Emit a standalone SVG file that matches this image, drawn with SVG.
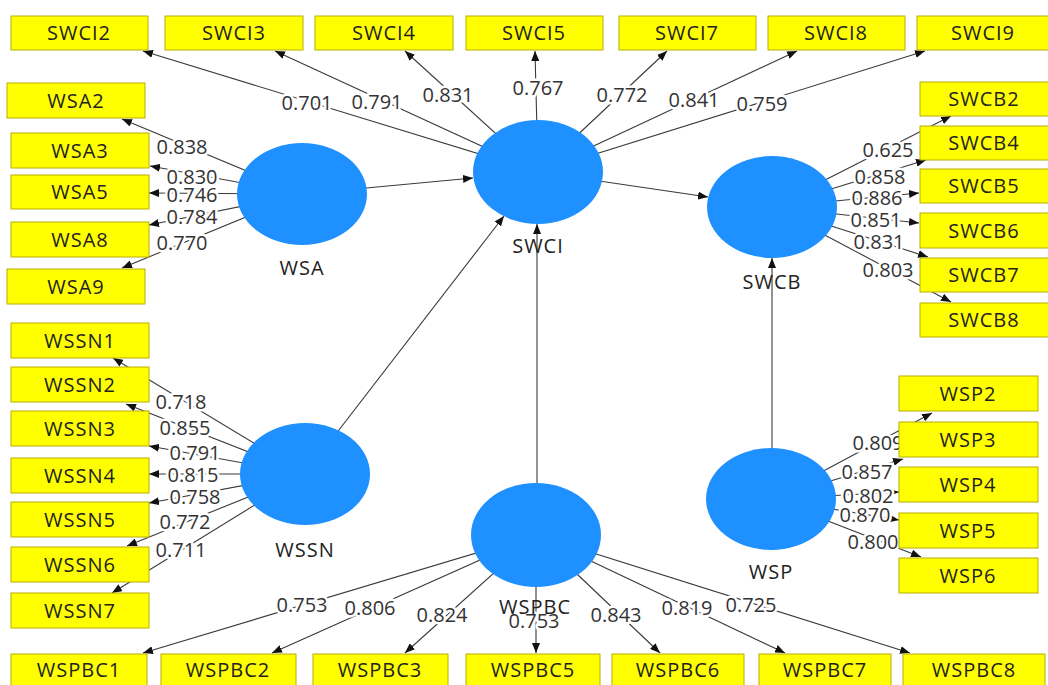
<svg xmlns="http://www.w3.org/2000/svg" width="1048" height="685" viewBox="0 0 1048 685">
<defs>
<marker id="ah" viewBox="0 0 10 8" refX="10" refY="4" markerWidth="10" markerHeight="8" markerUnits="userSpaceOnUse" orient="auto"><path d="M0,0L10,4L0,8z" fill="#111"/></marker>
<style>
.c{stroke:#3a3a3a;stroke-width:1.1;fill:none;marker-end:url(#ah)}
.lv{fill:#1e90ff}
.ind rect{fill:#ffff00;stroke:#b8ae00;stroke-width:1}
.ind text,.nl{font-family:"Open Sans","DejaVu Sans",sans-serif;font-size:20px;fill:#222;text-anchor:middle;letter-spacing:1px}
.el{font-family:"Open Sans","DejaVu Sans",sans-serif;font-size:20px;fill:#333;text-anchor:middle;stroke:#fff;stroke-width:5;paint-order:stroke;stroke-linejoin:round}
</style>
</defs>
<rect width="1048" height="685" fill="#fff"/>
<g id="connectors">
<line class="c" x1="538" y1="172" x2="143" y2="51"/>
<line class="c" x1="538" y1="172" x2="275" y2="51"/>
<line class="c" x1="538" y1="172" x2="405" y2="51"/>
<line class="c" x1="538" y1="172" x2="535" y2="51"/>
<line class="c" x1="538" y1="172" x2="667" y2="51"/>
<line class="c" x1="538" y1="172" x2="797" y2="51"/>
<line class="c" x1="538" y1="172" x2="925" y2="51"/>
<line class="c" x1="302" y1="194" x2="122" y2="119"/>
<line class="c" x1="302" y1="194" x2="150" y2="166"/>
<line class="c" x1="302" y1="194" x2="149" y2="193"/>
<line class="c" x1="302" y1="194" x2="149" y2="225"/>
<line class="c" x1="302" y1="194" x2="122" y2="268"/>
<line class="c" x1="305" y1="474" x2="113" y2="358"/>
<line class="c" x1="305" y1="474" x2="126" y2="404"/>
<line class="c" x1="305" y1="474" x2="149" y2="446"/>
<line class="c" x1="305" y1="474" x2="149" y2="474"/>
<line class="c" x1="305" y1="474" x2="149" y2="503"/>
<line class="c" x1="305" y1="474" x2="127" y2="546"/>
<line class="c" x1="305" y1="474" x2="112" y2="593"/>
<line class="c" x1="772" y1="207" x2="951" y2="116"/>
<line class="c" x1="772" y1="207" x2="926" y2="160"/>
<line class="c" x1="772" y1="207" x2="919" y2="193"/>
<line class="c" x1="772" y1="207" x2="919" y2="223"/>
<line class="c" x1="772" y1="207" x2="928" y2="257"/>
<line class="c" x1="772" y1="207" x2="951" y2="302"/>
<line class="c" x1="771" y1="499" x2="932" y2="413"/>
<line class="c" x1="771" y1="499" x2="903" y2="459"/>
<line class="c" x1="771" y1="499" x2="899" y2="492"/>
<line class="c" x1="771" y1="499" x2="899" y2="520"/>
<line class="c" x1="771" y1="499" x2="921" y2="557"/>
<line class="c" x1="536" y1="535" x2="143" y2="653"/>
<line class="c" x1="536" y1="535" x2="272" y2="653"/>
<line class="c" x1="536" y1="535" x2="405" y2="653"/>
<line class="c" x1="536" y1="535" x2="536" y2="653"/>
<line class="c" x1="536" y1="535" x2="660" y2="653"/>
<line class="c" x1="536" y1="535" x2="785" y2="653"/>
<line class="c" x1="536" y1="535" x2="910" y2="653"/>
<line class="c" x1="302" y1="194" x2="473" y2="178"/>
<line class="c" x1="305" y1="474" x2="504" y2="216"/>
<line class="c" x1="537" y1="535" x2="537" y2="224"/>
<line class="c" x1="538" y1="172" x2="708" y2="197"/>
<line class="c" x1="772" y1="499" x2="772" y2="258"/>
<g id="edge-labels">
<text class="el" x="307" y="110">0.701</text>
<text class="el" x="377" y="109">0.791</text>
<text class="el" x="448" y="102">0.831</text>
<text class="el" x="538" y="95">0.767</text>
<text class="el" x="622" y="102">0.772</text>
<text class="el" x="694" y="107">0.841</text>
<text class="el" x="762" y="111">0.759</text>
<text class="el" x="182" y="154">0.838</text>
<text class="el" x="192" y="184">0.830</text>
<text class="el" x="192" y="202">0.746</text>
<text class="el" x="192" y="224">0.784</text>
<text class="el" x="182" y="250">0.770</text>
<text class="el" x="181" y="409">0.718</text>
<text class="el" x="185" y="435">0.855</text>
<text class="el" x="195" y="460">0.791</text>
<text class="el" x="193" y="482">0.815</text>
<text class="el" x="195" y="504">0.758</text>
<text class="el" x="185" y="529">0.772</text>
<text class="el" x="181" y="557">0.711</text>
<text class="el" x="888" y="157">0.625</text>
<text class="el" x="880" y="184">0.858</text>
<text class="el" x="877" y="205">0.886</text>
<text class="el" x="876" y="227">0.851</text>
<text class="el" x="879" y="249">0.831</text>
<text class="el" x="888" y="277">0.803</text>
<text class="el" x="878" y="450">0.809</text>
<text class="el" x="867" y="479">0.857</text>
<text class="el" x="868" y="503">0.802</text>
<text class="el" x="865" y="522">0.870</text>
<text class="el" x="873" y="549">0.800</text>
<text class="el" x="302" y="612">0.753</text>
<text class="el" x="370" y="615">0.806</text>
<text class="el" x="442" y="622">0.824</text>
<text class="el" x="534" y="628">0.753</text>
<text class="el" x="616" y="622">0.843</text>
<text class="el" x="687" y="615">0.819</text>
<text class="el" x="751" y="612">0.725</text>
</g>
</g>
<g id="SWCI"><ellipse class="lv" cx="538" cy="172" rx="65" ry="52"/><text class="nl" x="538" y="253">SWCI</text></g>
<g id="WSA"><ellipse class="lv" cx="302" cy="194" rx="65" ry="51"/><text class="nl" x="302" y="275">WSA</text></g>
<g id="SWCB"><ellipse class="lv" cx="772" cy="207" rx="65" ry="51"/><text class="nl" x="772" y="289">SWCB</text></g>
<g id="WSSN"><ellipse class="lv" cx="305" cy="474" rx="65" ry="51"/><text class="nl" x="305" y="557">WSSN</text></g>
<g id="WSPBC"><ellipse class="lv" cx="536" cy="535" rx="65" ry="52"/><text class="nl" x="535" y="614">WSPBC</text></g>
<g id="WSP"><ellipse class="lv" cx="771" cy="499" rx="65" ry="51"/><text class="nl" x="771" y="579">WSP</text></g>
<g id="SWCI2" class="ind"><rect x="11" y="16" width="137" height="34"/><text x="79" y="40">SWCI2</text></g>
<g id="SWCI3" class="ind"><rect x="165" y="16" width="138" height="34"/><text x="234" y="40">SWCI3</text></g>
<g id="SWCI4" class="ind"><rect x="315" y="16" width="138" height="34"/><text x="384" y="40">SWCI4</text></g>
<g id="SWCI5" class="ind"><rect x="466" y="16" width="137" height="34"/><text x="534" y="40">SWCI5</text></g>
<g id="SWCI7" class="ind"><rect x="619" y="16" width="137" height="34"/><text x="687" y="40">SWCI7</text></g>
<g id="SWCI8" class="ind"><rect x="768" y="16" width="137" height="34"/><text x="836" y="40">SWCI8</text></g>
<g id="SWCI9" class="ind"><rect x="917" y="16" width="137" height="34"/><text x="983" y="40">SWCI9</text></g>
<g id="WSA2" class="ind"><rect x="7" y="83" width="138" height="35"/><text x="76" y="108">WSA2</text></g>
<g id="WSA3" class="ind"><rect x="11" y="133" width="138" height="35"/><text x="80" y="158">WSA3</text></g>
<g id="WSA5" class="ind"><rect x="11" y="175" width="138" height="34"/><text x="80" y="199">WSA5</text></g>
<g id="WSA8" class="ind"><rect x="11" y="222" width="138" height="35"/><text x="80" y="247">WSA8</text></g>
<g id="WSA9" class="ind"><rect x="7" y="269" width="138" height="35"/><text x="76" y="294">WSA9</text></g>
<g id="WSSN1" class="ind"><rect x="11" y="323" width="138" height="35"/><text x="80" y="348">WSSN1</text></g>
<g id="WSSN2" class="ind"><rect x="11" y="367" width="138" height="35"/><text x="80" y="392">WSSN2</text></g>
<g id="WSSN3" class="ind"><rect x="11" y="411" width="138" height="35"/><text x="80" y="436">WSSN3</text></g>
<g id="WSSN4" class="ind"><rect x="11" y="458" width="138" height="35"/><text x="80" y="483">WSSN4</text></g>
<g id="WSSN5" class="ind"><rect x="11" y="502" width="138" height="35"/><text x="80" y="527">WSSN5</text></g>
<g id="WSSN6" class="ind"><rect x="11" y="547" width="138" height="35"/><text x="80" y="572">WSSN6</text></g>
<g id="WSSN7" class="ind"><rect x="11" y="593" width="138" height="35"/><text x="80" y="618">WSSN7</text></g>
<g id="SWCB2" class="ind"><rect x="920" y="82" width="132" height="34"/><text x="984" y="106">SWCB2</text></g>
<g id="SWCB4" class="ind"><rect x="920" y="126" width="132" height="34"/><text x="984" y="150">SWCB4</text></g>
<g id="SWCB5" class="ind"><rect x="920" y="169" width="132" height="34"/><text x="984" y="193">SWCB5</text></g>
<g id="SWCB6" class="ind"><rect x="920" y="213" width="132" height="35"/><text x="984" y="238">SWCB6</text></g>
<g id="SWCB7" class="ind"><rect x="920" y="258" width="132" height="34"/><text x="984" y="282">SWCB7</text></g>
<g id="SWCB8" class="ind"><rect x="920" y="303" width="132" height="34"/><text x="984" y="327">SWCB8</text></g>
<g id="WSP2" class="ind"><rect x="899" y="376" width="139" height="35"/><text x="968" y="401">WSP2</text></g>
<g id="WSP3" class="ind"><rect x="899" y="422" width="139" height="35"/><text x="968" y="447">WSP3</text></g>
<g id="WSP4" class="ind"><rect x="899" y="467" width="139" height="35"/><text x="968" y="492">WSP4</text></g>
<g id="WSP5" class="ind"><rect x="899" y="513" width="139" height="35"/><text x="968" y="538">WSP5</text></g>
<g id="WSP6" class="ind"><rect x="899" y="558" width="139" height="35"/><text x="968" y="583">WSP6</text></g>
<g id="WSPBC1" class="ind"><rect x="11" y="654" width="136" height="36"/><text x="79" y="677">WSPBC1</text></g>
<g id="WSPBC2" class="ind"><rect x="161" y="654" width="135" height="36"/><text x="228" y="677">WSPBC2</text></g>
<g id="WSPBC3" class="ind"><rect x="313" y="654" width="135" height="36"/><text x="380" y="677">WSPBC3</text></g>
<g id="WSPBC5" class="ind"><rect x="466" y="654" width="134" height="36"/><text x="533" y="677">WSPBC5</text></g>
<g id="WSPBC6" class="ind"><rect x="612" y="654" width="132" height="36"/><text x="678" y="677">WSPBC6</text></g>
<g id="WSPBC7" class="ind"><rect x="759" y="654" width="132" height="36"/><text x="825" y="677">WSPBC7</text></g>
<g id="WSPBC8" class="ind"><rect x="903" y="654" width="142" height="36"/><text x="974" y="677">WSPBC8</text></g>
</svg>
